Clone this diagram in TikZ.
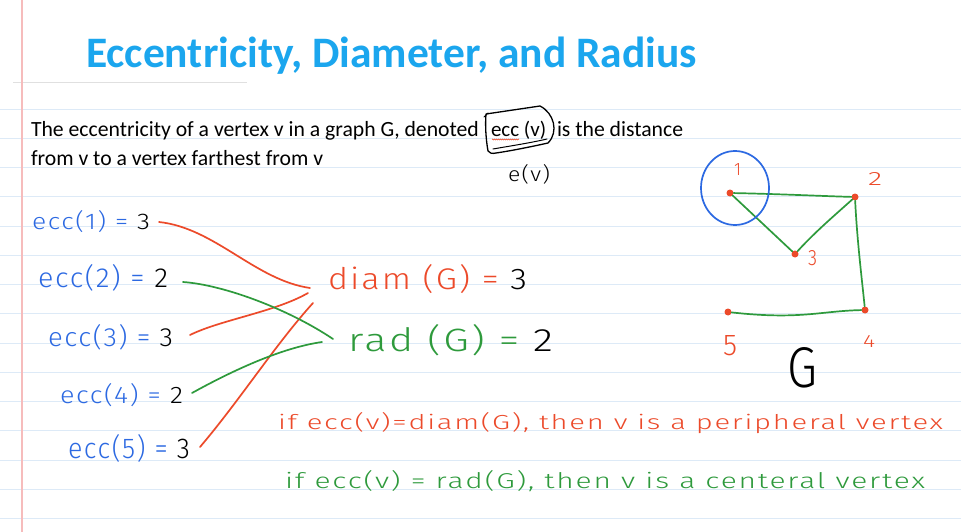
\documentclass[tikz,border=0pt]{standalone}
\usepackage{fontspec}
\setmainfont{Carlito}
\newfontfamily\hwf[LetterSpace=6]{Fira Sans Light}
\usetikzlibrary{decorations.pathmorphing}
\definecolor{titleblue}{HTML}{1BA6EE}
\definecolor{hwblue}{HTML}{2C69E2}
\definecolor{hwred}{HTML}{EC4A2A}
\definecolor{hwgreen}{HTML}{2E9A3C}
\definecolor{ruleblue}{HTML}{DDEAF7}
\definecolor{marginpink}{HTML}{F6BCBC}
\newcommand{\hwbox}[3]{\resizebox{#1}{#2}{\hwf #3}}
\begin{document}
\begin{tikzpicture}[x=1pt,y=-1pt,
  txt/.style={inner sep=0pt, outer sep=0pt, anchor=base west},
  bodyfont/.style={font=\fontsize{21.7}{26}\selectfont},
  rulestyle/.style={draw=ruleblue, line width=0.9pt},
  hwline/.style={line width=1.7pt, line cap=round, line join=round},
  redline/.style={hwline, draw=hwred},
  greenline/.style={hwline, draw=hwgreen},
  vdot/.style={circle, fill=hwred, inner sep=0pt, minimum size=7pt}]
\useasboundingbox (0,0) rectangle (961,532);
\fill[white] (0,0) rectangle (961,532);
% ruled paper
\foreach \k in {0,...,14} \draw[rulestyle] (0,{109+29.25*\k}) -- (961,{109+29.25*\k});
\draw[draw=black!12, line width=0.8pt] (13,82) -- (247,82);
\draw[draw=marginpink, line width=1.5pt] (22,0) -- (22,532);
% title and definition
\node[txt, text=titleblue, font=\bfseries\fontsize{43.5}{50}\selectfont] (title) at (86,68) {Eccentricity, Diameter, and Radius};
\node[txt, bodyfont] (def1) at (31,136.5) {The eccentricity of a vertex v in a graph G, denoted};
\node[txt, font=\fontsize{21}{24}\selectfont] (eccv) at (491,136.5) {ecc (v)};
\node[txt, bodyfont] (def2) at (557,136.5) {is the distance};
\node[txt, bodyfont] (def3) at (31,165.5) {from v to a vertex farthest from v};
\draw[hwred, line width=0.5pt, decorate, decoration={zigzag, segment length=2pt, amplitude=0.6pt}] ([shift={(1,3)}]eccv.base west) -- ([shift={(28,3)}]eccv.base west);
\draw[black, line width=1.3pt, line cap=round, line join=round]
  (488,151) .. controls (486,140) and (485,125) .. (486,114) -- (540,106)
  .. controls (554,113) and (559,132) .. (548,143)
  .. controls (530,147) and (510,151) .. (496,153)
  .. controls (492,154) and (489,153) .. (488,151);
\draw[black, line width=1pt, line cap=round] (493,149) .. controls (510,146) and (530,143) .. (547,139);
\draw[black, line width=1pt, line cap=round] (484,117) -- (488,113);
\node[txt] (ev) at (508,182) {\hwbox{42pt}{17pt}{e(v)}};
% eccentricities
\node[txt] (l1) at (32,229) {\hwbox{118pt}{19pt}{\color{hwblue}ecc(1) = \color{black}3}};
\node[txt] (l2) at (38,287) {\hwbox{130pt}{23pt}{\color{hwblue}ecc(2) = \color{black}2}};
\node[txt] (l3) at (48,346) {\hwbox{125pt}{22pt}{\color{hwblue}ecc(3) = \color{black}3}};
\node[txt] (l4) at (60,403) {\hwbox{123pt}{20pt}{\color{hwblue}ecc(4) = \color{black}2}};
\node[txt] (l5) at (68,458) {\hwbox{122pt}{24pt}{\color{hwblue}ecc(5) = \color{black}3}};
\node[txt] (diam) at (328,289) {\hwbox{199pt}{25pt}{\color{hwred}diam (G) = \color{black}3}};
\node[txt] (rad) at (348,351) {\hwbox{205pt}{27pt}{\color{hwgreen}rad (G) = \color{black}2}};
% connectors
\draw[redline] ([shift={(9,-7)}]l1.base east) .. controls (215,228) and (255,280) .. ([shift={(-18,-1)}]diam.base west);
\draw[redline] ([shift={(17,-11)}]l3.base east) .. controls (220,320) and (275,312) .. ([shift={(-20,4)}]diam.base west);
\draw[redline] ([shift={(10,-11)}]l5.base east) .. controls (240,400) and (275,345) .. ([shift={(-15,14)}]diam.base west);
\draw[greenline] ([shift={(15,-5)}]l2.base east) .. controls (225,285) and (290,310) .. ([shift={(-15,-12)}]rad.base west);
\draw[greenline] ([shift={(9,-10)}]l4.base east) .. controls (230,372) and (280,348) .. ([shift={(-26,-9)}]rad.base west);
% graph G
\node[vdot] (v1) at (730,193) {};
\node[vdot] (v2) at (855,197) {};
\node[vdot] (v3) at (795,254) {};
\node[vdot] (v4) at (865,310) {};
\node[vdot] (v5) at (728,312) {};
\draw[greenline] (v1) .. controls (780,194) and (820,196) .. (v2);
\draw[greenline] (v1) -- (v3);
\draw[greenline] (v3) .. controls (815,232) and (835,215) .. (v2);
\draw[greenline] (v2) .. controls (857,240) and (862,280) .. (v4);
\draw[greenline] (v4) .. controls (820,311) and (800,320) .. (v5);
\draw[hwblue, line width=1.7pt] (735,188) ellipse [x radius=34, y radius=37];
\node[txt] (n1) at (734,175) {\hwbox{7pt}{12pt}{\color{hwred}1}};
\node[txt] (n2) at (868,185) {\hwbox{14pt}{13pt}{\color{hwred}2}};
\node[txt] (n3) at (808,265) {\hwbox{9pt}{15pt}{\color{hwred}3}};
\node[txt] (n4) at (863,347) {\hwbox{12pt}{12pt}{\color{hwred}4}};
\node[txt] (n5) at (723,355) {\hwbox{14pt}{20pt}{\color{hwred}5}};
\node[txt] (gname) at (787,387) {\hwbox{30pt}{40pt}{G}};
% conclusions
\node[txt] (per) at (278,429) {\hwbox{665pt}{17pt}{\color{hwred}if ecc(v)=diam(G), then v is a peripheral vertex}};
\node[txt] (cen) at (285,488) {\hwbox{640pt}{18pt}{\color{hwgreen}if ecc(v) = rad(G), then v is a centeral vertex}};
\end{tikzpicture}
\end{document}
